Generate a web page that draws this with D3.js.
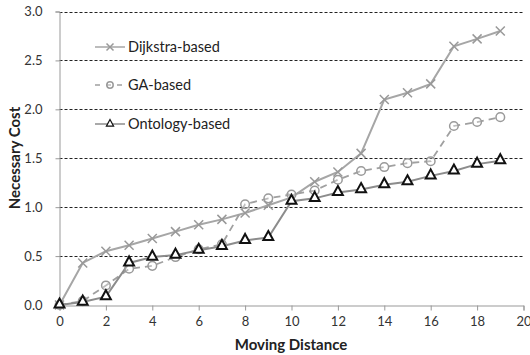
<!DOCTYPE html>
<html>
<head>
<meta charset="utf-8">
<script src="https://cdn.jsdelivr.net/npm/d3@7"></script>
<style>
body { margin: 0; background: #fff; }
svg text { font-family: Lato, "Open Sans", sans-serif; }
</style>
</head>
<body>
<svg id="chart"></svg>
<script>
var width = 530;
var height = 355;

// data
var distances = [0,1,2,3,4,5,6,7,8,9,10,11,12,13,14,15,16,17,18,19];
var dijkstra = [0,0.43,0.55,0.61,0.68,0.75,0.82,0.875,0.94,1.02,1.1,1.26,1.36,1.55,2.1,2.17,2.26,2.645,2.72,2.8];
var gaBased = [0,0.04,0.2,0.37,0.4,0.49,0.57,0.62,1.03,1.09,1.13,1.17,1.28,1.37,1.41,1.45,1.47,1.83,1.87,1.92];
var ontology = [0,0.03,0.085,0.43,0.49,0.51,0.56,0.6,0.66,0.69,1.06,1.09,1.15,1.18,1.23,1.26,1.32,1.37,1.44,1.475];
var xTicks = [0,2,4,6,8,10,12,14,16,18,20];
var yTicks = [0,0.5,1,1.5,2,2.5,3];
var seriesNames = ["Dijkstra-based", "GA-based", "Ontology-based"];

var x = d3.scaleLinear().domain([0, 20]).range([59.5, 523.5]);
var y = d3.scaleLinear().domain([0, 3]).range([305, 11.5]);

var svg = d3.select("#chart").attr("width", width).attr("height", height);

// dashed gridlines
svg.append("g").selectAll("line")
	.data(yTicks.filter(function (d) { return d > 0; }))
	.enter().append("line")
	.attr("x1", x(0)).attr("x2", x(20))
	.attr("y1", function (d) { return Math.round(y(d)) + 0.5; })
	.attr("y2", function (d) { return Math.round(y(d)) + 0.5; })
	.attr("stroke", "#222").attr("stroke-width", 1)
	.attr("stroke-dasharray", "3,2");

// axes
var xAxis = svg.append("g").attr("transform", "translate(0," + 305.5 + ")")
	.call(d3.axisBottom(x).tickValues(xTicks).tickSize(5).tickPadding(6).tickFormat(d3.format("d")));
var yAxis = svg.append("g").attr("transform", "translate(" + 59.5 + ",0)")
	.call(d3.axisLeft(y).tickValues(yTicks).tickSize(4).tickPadding(13).tickFormat(d3.format(".1f")));
[xAxis, yAxis].forEach(function (g) {
	g.select(".domain").attr("stroke", "#999");
	g.selectAll(".tick line").attr("stroke", "#999");
	g.selectAll(".tick text").attr("fill", "#333").style("font-size", "13px");
});

svg.append("text")
	.attr("x", 291).attr("y", 350)
	.attr("text-anchor", "middle")
	.style("font-size", "15px").style("font-weight", "bold").attr("fill", "#222")
	.text("Moving Distance");
svg.append("text")
	.attr("transform", "translate(20,158)rotate(-90)")
	.attr("text-anchor", "middle")
	.style("font-size", "15px").style("font-weight", "bold").attr("fill", "#222")
	.text("Necessary Cost");

var line = d3.line()
	.x(function (d, i) { return x(distances[i]); })
	.y(function (d) { return y(d); });

// Dijkstra
svg.append("path").datum(dijkstra).attr("d", line)
	.attr("fill", "none").attr("stroke", "#a6a6a6").attr("stroke-width", 2);
// GA
svg.append("path").datum(gaBased).attr("d", line)
	.attr("fill", "none").attr("stroke", "#a0a0a0").attr("stroke-width", 1.8)
	.attr("stroke-dasharray", "7,5");
// Ontology
svg.append("path").datum(ontology).attr("d", line)
	.attr("fill", "none").attr("stroke", "#8c8c8c").attr("stroke-width", 2);

function drawCross(g, cx, cy, s) {
	g.append("path")
		.attr("d", "M" + (cx - s) + "," + (cy - s) + "L" + (cx + s) + "," + (cy + s) +
			"M" + (cx - s) + "," + (cy + s) + "L" + (cx + s) + "," + (cy - s))
		.attr("stroke", "#999").attr("stroke-width", 1.5).attr("fill", "none");
}
function drawCircle(g, cx, cy, r) {
	g.append("circle").attr("cx", cx).attr("cy", cy).attr("r", r)
		.attr("fill", "#fff").attr("fill-opacity", 0.3)
		.attr("stroke", "#9a9a9a").attr("stroke-width", 1.5);
}
function drawTriangle(g, cx, cy, s, w) {
	g.append("path")
		.attr("d", "M" + cx + "," + (cy - s) + "L" + (cx + s * 0.9) + "," + (cy + s * 0.65) +
			"L" + (cx - s * 0.9) + "," + (cy + s * 0.65) + "Z")
		.attr("fill", "#fff").attr("stroke", "#111").attr("stroke-width", w);
}

var marks = svg.append("g");
dijkstra.forEach(function (d, i) { drawCross(marks, x(distances[i]), y(d), 4.5); });
gaBased.forEach(function (d, i) { drawCircle(marks, x(distances[i]), y(d), 4.3); });
ontology.forEach(function (d, i) { drawTriangle(marks, x(distances[i]), y(d) - 1, 5.5, 2); });

// legend
var legend = svg.append("g");
var legendY = [47, 85, 124];
legendY.forEach(function (ly, i) {
	if (i == 0) {
		legend.append("line").attr("x1", 95).attr("x2", 125).attr("y1", ly).attr("y2", ly)
			.attr("stroke", "#a6a6a6").attr("stroke-width", 1.5);
		drawCross(legend, 110, ly, 3.5);
	} else if (i == 1) {
		legend.append("line").attr("x1", 95).attr("x2", 125).attr("y1", ly).attr("y2", ly)
			.attr("stroke", "#a0a0a0").attr("stroke-width", 1.5).attr("stroke-dasharray", "5,6");
		drawCircle(legend, 110, ly, 3.2);
	} else {
		legend.append("line").attr("x1", 95).attr("x2", 125).attr("y1", ly).attr("y2", ly)
			.attr("stroke", "#8c8c8c").attr("stroke-width", 1.5);
		drawTriangle(legend, 110, ly - 0.5, 4, 1.2);
	}
	legend.append("text").attr("x", 128).attr("y", ly + 5)
		.style("font-size", "14.5px").attr("fill", "#222")
		.text(seriesNames[i]);
});
</script>
</body>
</html>
